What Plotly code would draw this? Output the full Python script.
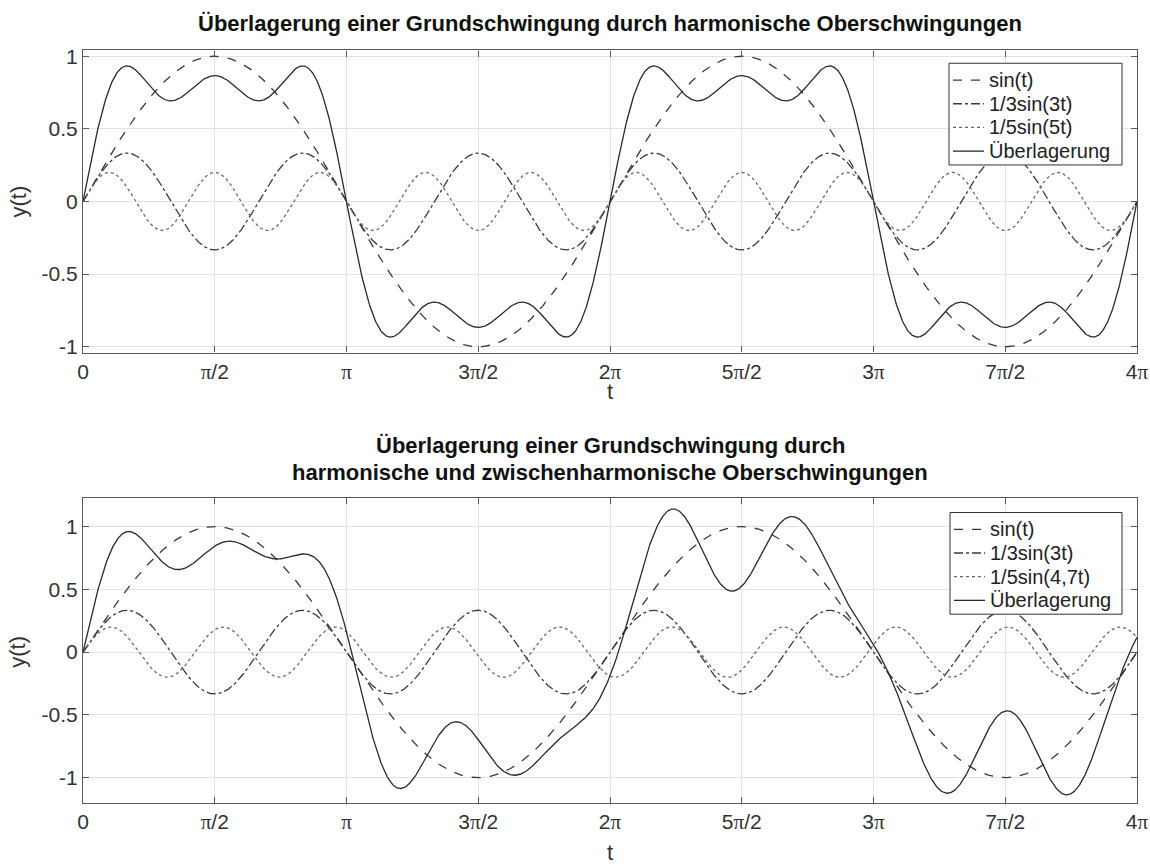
import numpy as np
import plotly.graph_objects as go

# Time axis: two full periods of the fundamental
t = np.linspace(0, 4 * np.pi, 2000)

# Components: amplitude and frequency of each partial oscillation
amp = [1.0, 1 / 3, 1 / 5]
freq_harmonic = [1.0, 3.0, 5.0]
freq_interharmonic = [1.0, 3.0, 4.7]

names_top = ["sin(t)", "1/3sin(3t)", "1/5sin(5t)", "Überlagerung"]
names_bottom = ["sin(t)", "1/3sin(3t)", "1/5sin(4,7t)", "Überlagerung"]

PI = '<span style="font-family:Liberation Serif">π</span>'
tick_vals = [k * np.pi / 2 for k in range(9)]
tick_text = ["0", "π/2", "π", "3π/2", "2π", "5π/2", "3π", "7π/2", "4π"]

dashes = ["dash", "dashdot", "dot", "solid"]
line_colors = ["#3a3a3a", "#3a3a3a", "#6a6a6a", "#2a2a2a"]

FONT = "Liberation Sans, Arial, sans-serif"
W, H = 1150.0, 868.0
ML, MR = 83, 13
PW = W - ML - MR


def px(x):
    return (x - ML) / PW


def py(y):
    return 1 - y / H


fig = go.Figure()


def add_panel(freqs, names, xaxis, yaxis):
    parts = [a * np.sin(f * t) for a, f in zip(amp, freqs)]
    curves = parts + [np.sum(parts, axis=0)]
    for y, name, d, c in zip(curves, names, dashes, line_colors):
        fig.add_trace(go.Scatter(
            x=t, y=y, mode="lines", name=name, showlegend=False,
            line=dict(color=c, width=1.3, dash=d),
            xaxis=xaxis, yaxis=yaxis,
        ))


add_panel(freq_harmonic, names_top, "x", "y")
add_panel(freq_interharmonic, names_bottom, "x2", "y2")

shapes, annotations = [], []


def add_legend(names, box, rows):
    x0, y0, x1, y1 = box
    shapes.append(dict(type="rect", xref="paper", yref="paper",
                       x0=px(x0), x1=px(x1), y0=py(y0), y1=py(y1),
                       line=dict(color="#333", width=1), fillcolor="white", layer="above"))
    for name, d, c, ry in zip(names, dashes, line_colors, rows):
        shapes.append(dict(type="line", xref="paper", yref="paper",
                           x0=px(x0 + 4), x1=px(x0 + 35), y0=py(ry), y1=py(ry),
                           line=dict(color=c, width=1.3, dash=d), layer="above"))
        annotations.append(dict(text=name, xref="paper", yref="paper",
                                x=px(x0 + 38), y=py(ry), xanchor="left", yanchor="middle",
                                showarrow=False, font=dict(family=FONT, size=20, color="#222")))


add_legend(names_top, (949, 58, 1122, 161), [75, 99, 123, 147])
add_legend(names_bottom, (950, 513, 1122, 616), [530, 554, 578, 602])

# Panel titles
title_font = dict(family=FONT, size=22, color="#111")
for text, ty in [("Überlagerung einer Grundschwingung durch harmonische Oberschwingungen", 18),
                 ("Überlagerung einer Grundschwingung durch", 445),
                 ("harmonische und zwischenharmonische Oberschwingungen", 472)]:
    annotations.append(dict(text=f"<b>{text}</b>", x=0.5, y=py(ty), xref="paper", yref="paper",
                            showarrow=False, xanchor="center", yanchor="middle", font=title_font))

# Axis titles
axis_title_font = dict(family=FONT, size=22, color="#333")
for ty in (390, 857):
    annotations.append(dict(text="t", x=0.5, y=py(ty), xref="paper", yref="paper",
                            showarrow=False, xanchor="center", yanchor="middle",
                            font=axis_title_font))
for ty in (198, 654):
    annotations.append(dict(text="y(t)", x=px(18), y=py(ty), xref="paper", yref="paper",
                            showarrow=False, xanchor="center", yanchor="middle",
                            textangle=-90, font=axis_title_font))

axis_common = dict(
    showline=True, linecolor="#5a5a5a", linewidth=1.2, mirror="ticks",
    ticks="inside", ticklen=6, tickcolor="#5a5a5a",
    showgrid=True, gridcolor="#e3e3e3", gridwidth=1,
    zeroline=False, tickfont=dict(family=FONT, size=21, color="#333"),
)

xa = dict(axis_common, range=[0, 4 * np.pi], tickvals=tick_vals,
          ticktext=[s.replace("π", PI) for s in tick_text])
ya_ticks = dict(tickvals=[-1, -0.5, 0, 0.5, 1], ticktext=["-1", "-0.5", "0", "0.5", "1"])

fig.update_layout(
    width=W, height=H,
    margin=dict(l=ML, r=MR, t=0, b=0),
    paper_bgcolor="white", plot_bgcolor="white",
    font=dict(family=FONT, color="#222"),
    xaxis=dict(xa, domain=[0, 1], anchor="y"),
    yaxis=dict(axis_common, **ya_ticks, range=[-1.04, 1.04],
               domain=[py(351), py(45)], anchor="x"),
    xaxis2=dict(xa, domain=[0, 1], anchor="y2"),
    yaxis2=dict(axis_common, **ya_ticks, range=[-1.2, 1.23],
                domain=[py(807), py(498)], anchor="x2"),
    shapes=shapes,
    annotations=annotations,
)

fig.write_html("out.html")
